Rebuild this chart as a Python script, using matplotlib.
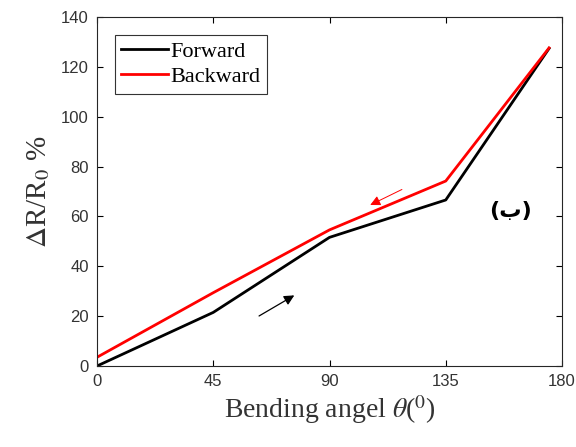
import numpy as np
import matplotlib
matplotlib.use('Agg')
import matplotlib.pyplot as plt

# Values
angles = [0, 45, 90, 135, 175]
forward = [0, 21.5, 51.6, 66.6, 127.4]
backward = [3.5, 29.4, 54.6, 74.2, 127.6]
x_ticks = [0, 45, 90, 135, 180]
y_ticks = [0, 20, 40, 60, 80, 100, 120, 140]

plt.rcParams['mathtext.fontset'] = 'stix'

fig = plt.figure(figsize=(5.76, 4.47), dpi=100)
ax = fig.add_axes([97 / 576, 1 - 366 / 447, 465 / 576, 349 / 447])

ax.plot(angles, forward, color='black', lw=2, label='Forward')
ax.plot(angles, backward, color='#ff0000', lw=2, label='Backward')

# direction arrows
ax.annotate('', xy=(77.3, 28.9), xytext=(61.8, 19.5),
            arrowprops=dict(arrowstyle='-|>', color='black', lw=0.9, mutation_scale=15))
ax.annotate('', xy=(104.8, 64.1), xytext=(119, 71.3),
            arrowprops=dict(arrowstyle='-|>', color='#ff0000', lw=0.7, mutation_scale=15))

ax.text(160, 62, '(ب)', fontsize=16, fontweight='bold', ha='center', va='center',
        family=['DejaVu Sans'])

ax.set_xlim(0, 180)
ax.set_ylim(0, 140)
ax.set_xticks(x_ticks)
ax.set_yticks(y_ticks)
ax.tick_params(direction='in', top=True, right=True, length=4, width=0.8,
               labelsize=12, labelcolor='#333333', pad=6)
for lab in ax.get_xticklabels() + ax.get_yticklabels():
    lab.set_family('Liberation Sans')
for sp in ax.spines.values():
    sp.set_linewidth(0.8)
    sp.set_color('#262626')

ax.set_xlabel(r'Bending angel $\theta$($^0$)', fontsize=20, family='Liberation Serif',
              color='#333333', labelpad=3)
ax.set_ylabel(r'$\Delta$R/R$_0$ %', fontsize=21, family='Liberation Serif',
              color='#333333', labelpad=6)

leg = ax.legend(loc='upper left', prop={'family': 'Liberation Serif', 'size': 16},
                fancybox=False, framealpha=1, edgecolor='#333333',
                handlelength=2.1, handletextpad=0.1, borderpad=0.3,
                labelspacing=0.2, borderaxespad=0.8)
leg.get_frame().set_linewidth(0.8)

fig.savefig('out.png', dpi=100)
